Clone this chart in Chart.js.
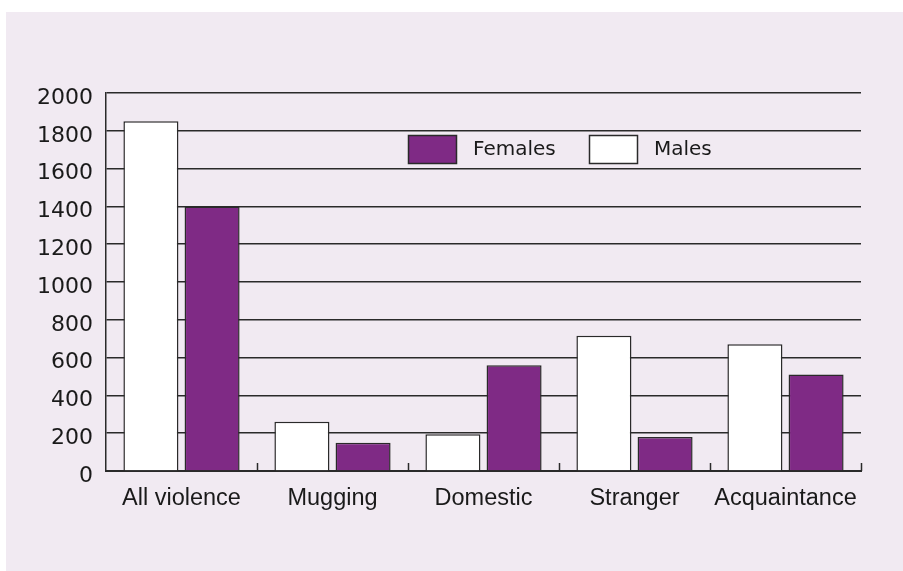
<!DOCTYPE html>
<html>
<head>
<meta charset="utf-8">
<script src="https://cdn.jsdelivr.net/npm/chart.js@4/dist/chart.umd.min.js"></script>
<style>
  html, body { margin: 0; padding: 0; background: #ffffff; }
  #wrap { width: 903px; height: 571px; position: relative; }
</style>
</head>
<body>
<div id="wrap"><canvas id="chart" width="903" height="571"></canvas></div>
<script>
const categories = ['All violence', 'Mugging', 'Domestic', 'Stranger', 'Acquaintance'];
const males = [1850, 260, 195, 715, 670];
const females = [1400, 150, 560, 180, 510];
const yTicks = [0, 200, 400, 600, 800, 1000, 1200, 1400, 1600, 1800, 2000];

const PURPLE = '#7f2a85';
const PANEL = '#f1eaf2';
const INK = '#2a2a2a';

// lavender panel behind everything
const panelBg = {
    id: 'panelBg',
    beforeDraw(chart) {
        const ctx = chart.ctx;
        ctx.save();
        ctx.fillStyle = PANEL;
        ctx.fillRect(6, 12, chart.width - 6, chart.height - 12);
        ctx.restore();
    }
};

// short upward ticks between categories on the baseline
const catTicks = {
    id: 'catTicks',
    afterDatasetsDraw(chart) {
        const x = chart.scales.x;
        const bottom = chart.chartArea.bottom;
        const ctx = chart.ctx;
        ctx.save();
        ctx.strokeStyle = INK;
        ctx.lineWidth = 1.5;
        for (let i = 1; i <= categories.length; i++) {
            const px = Math.round(x.getPixelForValue(i - 0.5)) + 0.5;
            ctx.beginPath();
            ctx.moveTo(px, bottom);
            ctx.lineTo(px, bottom - 8);
            ctx.stroke();
        }
        ctx.restore();
    }
};

// legend box inside the plot, Females first
const innerLegend = {
    id: 'innerLegend',
    afterDraw(chart) {
        const a = chart.chartArea;
        const ctx = chart.ctx;
        const items = [
            { label: 'Females', color: PURPLE, dx: 302 },
            { label: 'Males', color: '#ffffff', dx: 483 }
        ];
        ctx.save();
        ctx.font = '20px "DejaVu Sans"';
        ctx.textBaseline = 'middle';
        items.forEach(it => {
            const bx = a.left + it.dx;
            const by = a.top + 42;
            ctx.fillStyle = it.color;
            ctx.fillRect(bx, by, 48, 28);
            ctx.strokeStyle = INK;
            ctx.lineWidth = 1.5;
            ctx.strokeRect(bx + 0.5, by + 0.5, 48, 28);
            ctx.fillStyle = '#1a1a1a';
            ctx.fillText(it.label, bx + 65, by + 15);
        });
        ctx.restore();
    }
};

new Chart(document.getElementById('chart'), {
    type: 'bar',
    data: {
        labels: categories,
        datasets: [
            {
                label: 'Males',
                data: males,
                backgroundColor: '#ffffff',
                borderColor: INK,
                borderWidth: 1.5,
                categoryPercentage: 0.81,
                barPercentage: 0.9
            },
            {
                label: 'Females',
                data: females,
                backgroundColor: PURPLE,
                borderColor: INK,
                borderWidth: 1.5,
                categoryPercentage: 0.81,
                barPercentage: 0.9
            }
        ]
    },
    options: {
        responsive: false,
        animation: false,
        layout: { padding: { left: 0, top: 93, right: 42, bottom: 0 } },
        plugins: {
            legend: { display: false },
            tooltip: { enabled: false }
        },
        scales: {
            x: {
                grid: { display: false, drawTicks: false },
                border: { display: true, color: INK, width: 2 },
                ticks: {
                    color: '#1a1a1a',
                    padding: 13,
                    font: { family: 'Liberation Sans', size: 23.5 }
                },
                afterFit(scale) { scale.height = 100; }
            },
            y: {
                min: 0,
                max: 2000,
                afterBuildTicks(scale) {
                    scale.ticks = yTicks.map(v => ({ value: v }));
                },
                grid: { color: INK, lineWidth: 1.5, drawTicks: false },
                border: { display: true, color: INK, width: 1.5 },
                ticks: {
                    color: '#1a1a1a',
                    padding: 13,
                    labelOffset: 5,
                    font: { family: 'DejaVu Sans', size: 22 },
                    callback: v => String(v)
                },
                afterFit(scale) { scale.width = 106; }
            }
        }
    },
    plugins: [panelBg, catTicks, innerLegend]
});
</script>
</body>
</html>
